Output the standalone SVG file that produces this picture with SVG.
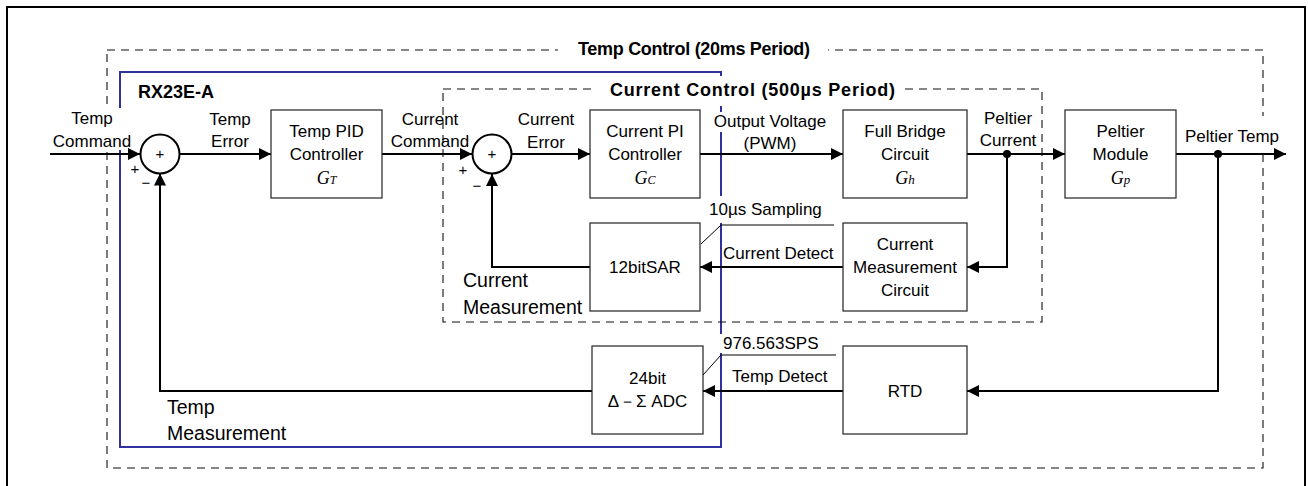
<svg xmlns="http://www.w3.org/2000/svg" width="1308" height="486" viewBox="0 0 1308 486">
<style>
.box{fill:#fff;stroke:#222;stroke-width:1.2}
.t{font-family:"Liberation Sans",Arial,sans-serif;font-size:17px;fill:#000}
.m{font-family:"Liberation Sans",Arial,sans-serif;font-size:19.5px;fill:#000}
.b{font-family:"Liberation Sans",Arial,sans-serif;font-size:18px;font-weight:bold;fill:#000}
.g{font-family:"Liberation Serif","Times New Roman",serif;font-style:italic;font-size:18px;fill:#000}
.c{text-anchor:middle}
.wire{fill:none;stroke:#000;stroke-width:2}
.thin{fill:none;stroke:#000;stroke-width:1}
.dash{fill:none;stroke:#111;stroke-width:1.1;stroke-dasharray:8 6}
.mask{fill:#fff}
.sm{font-family:"Liberation Sans",Arial,sans-serif;font-size:15px;fill:#000}
</style>
<defs>
<marker id="arr" markerUnits="userSpaceOnUse" markerWidth="12" markerHeight="12" refX="12" refY="6" orient="auto">
<path d="M0,0 L12,6 L0,12 z" fill="#000"/>
</marker>
</defs>
<rect width="1308" height="486" fill="#fff"/>
<rect x="7" y="7" width="1298" height="500" fill="none" stroke="#000" stroke-width="2"/>

<g id="frames">
<rect class="dash" x="107" y="50" width="1156" height="418"/>
<rect x="120" y="72" width="601" height="375" fill="none" stroke="#3030a0" stroke-width="2"/>
<rect class="dash" x="443" y="89" width="599" height="233"/>
<rect class="mask" x="558" y="38" width="270" height="24"/>
<rect class="mask" x="597" y="76" width="308" height="30"/>
<rect class="mask" x="50" y="108" width="84" height="42"/>
<rect class="mask" x="1180" y="116" width="105" height="34"/>
<rect class="mask" x="708" y="112" width="124" height="20"/>
<rect class="mask" x="706" y="196" width="116" height="27"/>
<rect class="mask" x="719" y="334" width="101" height="19"/>
<text class="b" x="578" y="55" textLength="232" lengthAdjust="spacing">Temp Control (20ms Period)</text>
<text class="b" x="610" y="96" textLength="285" lengthAdjust="spacing">Current Control (500µs Period)</text>
<text class="b" x="138" y="98">RX23E-A</text>
</g>

<g id="connectors">
<line class="wire" x1="50" y1="154" x2="140" y2="154" marker-end="url(#arr)"/>
<line class="wire" x1="180" y1="154" x2="271" y2="154" marker-end="url(#arr)"/>
<line class="wire" x1="382" y1="154" x2="472" y2="154" marker-end="url(#arr)"/>
<line class="wire" x1="512" y1="154" x2="590" y2="154" marker-end="url(#arr)"/>
<line class="wire" x1="700" y1="154" x2="843" y2="154" marker-end="url(#arr)"/>
<line class="wire" x1="967" y1="154" x2="1065" y2="154" marker-end="url(#arr)"/>
<line class="wire" x1="1176" y1="154" x2="1286" y2="154" marker-end="url(#arr)"/>
<polyline class="wire" points="1007,154 1007,267 967,267" marker-end="url(#arr)"/>
<polyline class="wire" points="1218,154 1218,391 967,391" marker-end="url(#arr)"/>
<line class="wire" x1="843" y1="267" x2="700" y2="267" marker-end="url(#arr)"/>
<line class="wire" x1="843" y1="391" x2="703" y2="391" marker-end="url(#arr)"/>
<polyline class="wire" points="590,267 492,267 492,174" marker-end="url(#arr)"/>
<polyline class="wire" points="592,391 160,391 160,173.5" marker-end="url(#arr)"/>
<circle cx="1007" cy="154" r="4" fill="#000"/>
<circle cx="1218" cy="154" r="4" fill="#000"/>
<polyline class="thin" points="701,244 721,225 834,225"/>
<polyline class="thin" points="703,375 721,355 836,355"/>
</g>

<g id="sum1">
<circle cx="160" cy="154" r="19.5" fill="#fff" stroke="#000" stroke-width="2"/>
<text class="sm c" x="160" y="159">+</text>
<text class="sm c" x="135" y="174">+</text>
<text class="sm c" x="146" y="188">−</text>
</g>
<g id="sum2">
<circle cx="492" cy="154" r="19.5" fill="#fff" stroke="#000" stroke-width="2"/>
<text class="sm c" x="492" y="159">+</text>
<text class="sm c" x="463" y="175">+</text>
<text class="sm c" x="477" y="191">−</text>
</g>

<g id="tempPID">
<rect class="box" x="271" y="110" width="111" height="88"/>
<text class="t c" x="326.5" y="137">Temp PID</text>
<text class="t c" x="326.5" y="160">Controller</text>
<text class="g c" x="326.5" y="184">G<tspan font-size="12">T</tspan></text>
</g>
<g id="currentPI">
<rect class="box" x="590" y="110" width="110" height="88"/>
<text class="t c" x="645" y="137">Current PI</text>
<text class="t c" x="645" y="160">Controller</text>
<text class="g c" x="645" y="184">G<tspan font-size="12">C</tspan></text>
</g>
<g id="fullBridge">
<rect class="box" x="843" y="110" width="124" height="88"/>
<text class="t c" x="905" y="137">Full Bridge</text>
<text class="t c" x="905" y="160">Circuit</text>
<text class="g c" x="905" y="184">G<tspan font-size="13">h</tspan></text>
</g>
<g id="peltier">
<rect class="box" x="1065" y="110" width="111" height="88"/>
<text class="t c" x="1120.5" y="137">Peltier</text>
<text class="t c" x="1120.5" y="160">Module</text>
<text class="g c" x="1120.5" y="184">G<tspan font-size="13">p</tspan></text>
</g>
<g id="sar">
<rect class="box" x="590" y="223" width="110" height="88"/>
<text class="t c" x="645" y="273">12bitSAR</text>
</g>
<g id="currentMeas">
<rect class="box" x="843" y="223" width="124" height="88"/>
<text class="t c" x="905" y="250">Current</text>
<text class="t c" x="905" y="273">Measurement</text>
<text class="t c" x="905" y="296">Circuit</text>
</g>
<g id="adc">
<rect class="box" x="592" y="346" width="111" height="88"/>
<text class="t c" x="647.5" y="384">24bit</text>
<text class="t c" x="647.5" y="407">Δ－Σ ADC</text>
</g>
<g id="rtd">
<rect class="box" x="843" y="346" width="124" height="88"/>
<text class="t c" x="905" y="397">RTD</text>
</g>

<g id="labels">
<text class="t c" x="92" y="124">Temp</text>
<text class="t c" x="92" y="147">Command</text>
<text class="t c" x="230" y="125">Temp</text>
<text class="t c" x="230" y="147">Error</text>
<text class="t c" x="430" y="125">Current</text>
<text class="t c" x="430" y="147">Command</text>
<text class="t c" x="546" y="125">Current</text>
<text class="t c" x="546" y="148">Error</text>
<text class="t c" x="770" y="127">Output Voltage</text>
<text class="t c" x="770" y="149">(PWM)</text>
<text class="t c" x="1008" y="124">Peltier</text>
<text class="t c" x="1008" y="146">Current</text>
<text class="t c" x="1232" y="142">Peltier Temp</text>
<text class="t" x="709" y="215">10µs Sampling</text>
<text class="t" x="723" y="259">Current Detect</text>
<text class="t" x="723" y="349">976.563SPS</text>
<text class="t" x="732" y="382">Temp Detect</text>
<text class="m" x="463" y="287">Current</text>
<text class="m" x="463" y="314">Measurement</text>
<text class="m" x="167" y="414">Temp</text>
<text class="m" x="167" y="440">Measurement</text>
</g>
</svg>
